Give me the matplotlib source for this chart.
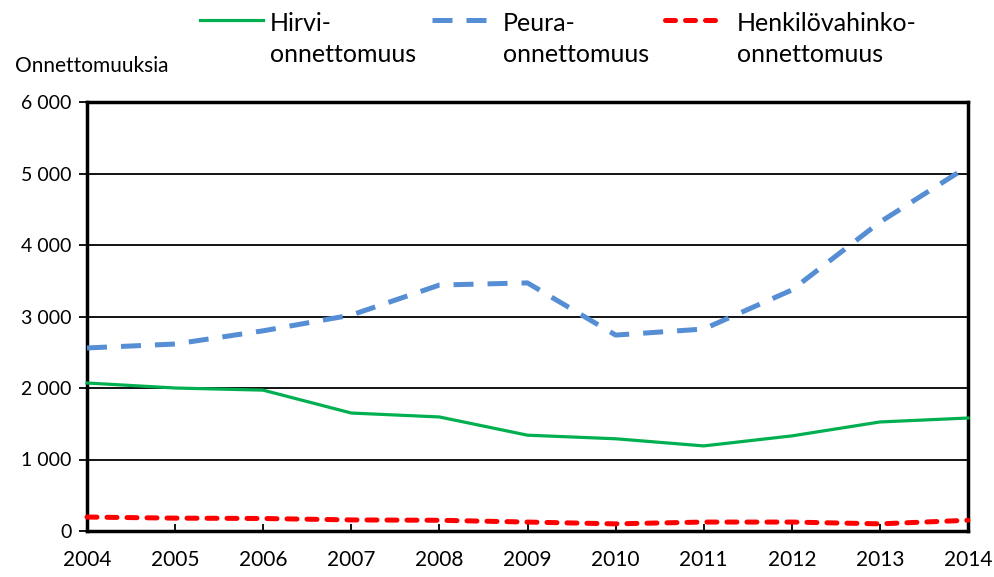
import matplotlib
matplotlib.use("Agg")
import matplotlib.pyplot as plt
from matplotlib.lines import Line2D
from matplotlib.ticker import FuncFormatter

plt.rcParams['font.family'] = ['Lato', 'DejaVu Sans']

years = [2004, 2005, 2006, 2007, 2008, 2009, 2010, 2011, 2012, 2013, 2014]
hirvi = [2070, 2000, 1970, 1650, 1595, 1340, 1290, 1190, 1330, 1525, 1580]
peura = [2560, 2615, 2800, 3020, 3440, 3470, 2740, 2825, 3370, 4320, 5100]
henkilo = [195, 180, 175, 155, 150, 125, 100, 125, 125, 100, 150]

labels = ["Hirvi-\nonnettomuus", "Peura-\nonnettomuus", "Henkilövahinko-\nonnettomuus"]
colors = ["#00b050", "#558ed5", "#ff0000"]

W, H = 994, 577
fig = plt.figure(figsize=(W / 100, H / 100), dpi=100)
ax = fig.add_axes([87 / W, 1 - 531 / H, (968 - 87) / W, (531 - 102) / H])

styles = [
    dict(lw=2.3, ls='-'),
    dict(lw=3.6, ls=(0, (4.0, 2.8))),
    dict(lw=3.6, ls=(0, (2.0, 2.0)), dash_capstyle='round'),
]

for vals, c, st in zip([hirvi, peura, henkilo], colors, styles):
    ax.plot(years, vals, color=c, clip_on=False, zorder=3, **st)

ax.set_xlim(2004, 2014)
ax.set_ylim(0, 6000)
ax.set_xticks(years)
ax.set_yticks(range(0, 6001, 1000))
ax.yaxis.set_major_formatter(FuncFormatter(lambda v, p: f"{int(v):,}".replace(",", " ")))
ax.grid(axis='y', color='black', lw=1.3)
ax.set_axisbelow(True)
for s in ax.spines.values():
    s.set_linewidth(2.5)
ax.tick_params(axis='x', direction='in', length=5, width=1.3, labelsize=15, pad=14)
ax.tick_params(axis='y', direction='out', length=6, width=1.3, labelsize=14, pad=5)

fig.text(15 / W, 1 - 72 / H, "Onnettomuuksia", fontsize=15, va='baseline', ha='left')

# legend drawn by hand: handle level with the first text row
leg_pos = [(200, 263, 270), (432, 498, 503), (665, 725, 737)]
for (x0, x1, tx), c, st, lab in zip(leg_pos, colors, styles, labels):
    fig.add_artist(Line2D([x0 / W, x1 / W], [1 - 20 / H] * 2, color=c,
                          transform=fig.transFigure, **st))
    first, second = lab.split("\n")
    fig.text(tx / W, 1 - 31 / H, first, fontsize=18, va='baseline', ha='left')
    fig.text(tx / W, 1 - 62 / H, second, fontsize=18, va='baseline', ha='left')

fig.savefig("out.png", dpi=100)
